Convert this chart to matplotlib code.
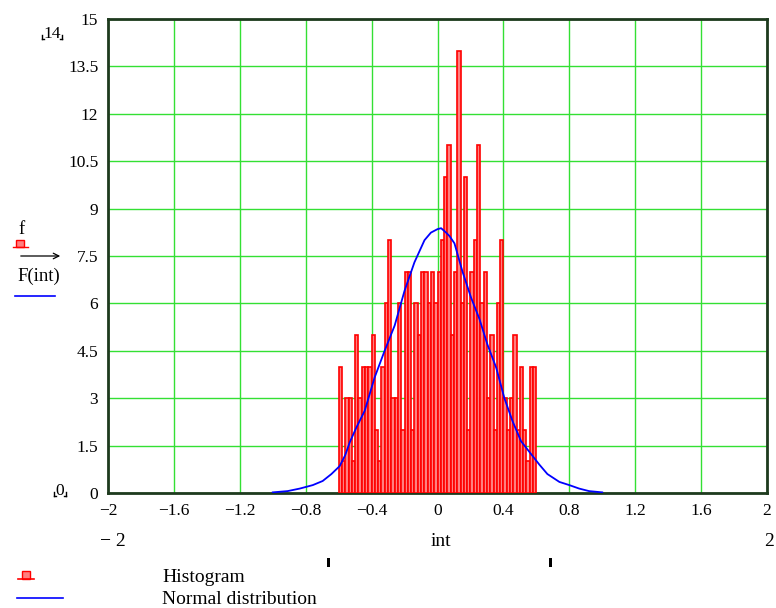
import matplotlib
matplotlib.use("Agg")
import matplotlib.pyplot as plt
from matplotlib.lines import Line2D
from matplotlib.patches import Rectangle

# ---------------- data ----------------
bin_start = -0.6
bin_width = 0.02
hist_counts = [4, 1, 3, 3, 1, 5, 3, 4, 4, 4,
               5, 2, 1, 4, 6, 8, 3, 3, 6, 2,
               7, 7, 2, 6, 5, 7, 7, 6, 7, 6,
               7, 8, 10, 11, 5, 7, 14, 6, 10, 2,
               7, 8, 11, 6, 7, 3, 5, 2, 6, 8,
               3, 2, 3, 5, 2, 4, 2, 1, 4, 4]

curve_x = [-1.0, -0.91, -0.836, -0.757, -0.697, -0.644, -0.594, -0.56, -0.533,
           -0.49, -0.442, -0.382, -0.321, -0.26, -0.2, -0.14, -0.079, -0.04, 0.0, 0.022,
           0.05, 0.073, 0.103, 0.152, 0.204, 0.255, 0.303, 0.356, 0.406, 0.455,
           0.507, 0.558, 0.618, 0.667, 0.74, 0.8, 0.86, 0.92, 1.0]
curve_y = [0.02, 0.06, 0.14, 0.25, 0.38, 0.6, 0.85, 1.2, 1.6,
           2.1, 2.6, 3.65, 4.5, 5.3, 6.4, 7.3, 8.0, 8.24, 8.35, 8.38,
           8.25, 8.13, 7.9, 7.0, 6.18, 5.5, 4.7, 3.97, 3.0, 2.28,
           1.64, 1.3, 0.9, 0.6, 0.35, 0.25, 0.14, 0.06, 0.02]

x_ticks = [-2, -1.6, -1.2, -0.8, -0.4, 0, 0.4, 0.8, 1.2, 1.6, 2]
x_tick_labels = ["\u22122", "\u22121.6", "\u22121.2", "\u22120.8", "\u22120.4",
                 "0", "0.4", "0.8", "1.2", "1.6", "2"]
y_ticks = [0, 1.5, 3, 4.5, 6, 7.5, 9, 10.5, 12, 13.5, 15]
y_tick_labels = ["0", "1.5", "3", "4.5", "6", "7.5", "9", "10.5", "12", "13.5", "15"]

# ---------------- figure ----------------
W, H = 776, 608
plt.rcParams['font.family'] = ['Liberation Serif', 'DejaVu Serif']
fig = plt.figure(figsize=(W / 100, H / 100), dpi=100)
ax = fig.add_axes([108 / W, 1 - 493 / H, 659 / W, 474 / H])

edges = [bin_start + i * bin_width for i in range(len(hist_counts))]
ax.bar(edges, hist_counts, width=bin_width, align='edge',
       color='#ff7f7f', edgecolor='#ff0000', linewidth=1.2, zorder=3)
ax.plot(curve_x, curve_y, color='#0000ff', linewidth=1.3, zorder=4)

ax.set_xlim(-2, 2)
ax.set_ylim(0, 15)
ax.set_xticks(x_ticks)
ax.set_xticklabels(x_tick_labels)
ax.set_yticks(y_ticks)
ax.set_yticklabels(y_tick_labels)
ax.tick_params(axis='both', length=0, labelsize=12.5)
ax.tick_params(axis='x', pad=7)
ax.tick_params(axis='y', pad=7)
ax.grid(True, color='#33e033', linewidth=1.0, zorder=0)
ax.set_axisbelow(True)
for s in ax.spines.values():
    s.set_color('#1e3a1e')
    s.set_linewidth(2)


def fx(px):
    return px / W


def fy(py):
    return 1 - py / H


# y-limit markers
fig.text(fx(52), fy(34), "14", fontsize=12.5, ha='center', va='center')
fig.text(fx(60), fy(491), "0", fontsize=12.5, ha='center', va='center')
for (cx, cy, hw) in [(52, 34, 10), (60, 491, 6)]:
    for sx in (-1, 1):
        x0 = cx + sx * hw
        fig.add_artist(Line2D([fx(x0), fx(x0)], [fy(cy + 1), fy(cy + 5)],
                              color='black', lw=1, transform=fig.transFigure))
        fig.add_artist(Line2D([fx(x0), fx(x0 - sx * 2)], [fy(cy + 5), fy(cy + 5)],
                              color='black', lw=1, transform=fig.transFigure))

# left-side trace labels
fig.text(fx(22), fy(229), "f", fontsize=13.5, ha='center', va='center')
fig.add_artist(Rectangle((fx(16), fy(247)), 8 / W, 7 / H, facecolor='#ff7f7f',
                         edgecolor='#ff0000', lw=1, transform=fig.transFigure))
fig.add_artist(Line2D([fx(13), fx(28)], [fy(247), fy(247)], color='#ff0000', lw=1,
                      transform=fig.transFigure))
ax.annotate("", xy=(fx(63), fy(256)), xytext=(fx(18), fy(256)),
            xycoords='figure fraction', textcoords='figure fraction',
            arrowprops=dict(arrowstyle='->', color='black', lw=0.9),
            annotation_clip=False)
fig.text(fx(39), fy(276), "F(int)", fontsize=13.5, ha='center', va='center')
fig.add_artist(Line2D([fx(15), fx(55)], [fy(296), fy(296)], color='#0000ff', lw=1.2,
                      transform=fig.transFigure))

# x range / axis name
fig.text(fx(113), fy(541), "\u2212 2", fontsize=14, ha='center', va='center')
fig.text(fx(441), fy(541), "int", fontsize=14, ha='center', va='center')
fig.text(fx(769), fy(541), "2", fontsize=14, ha='center', va='center')

# cursor markers
for mx in (328, 550):
    fig.add_artist(Rectangle((fx(mx - 1.5), fy(567)), 3 / W, 9 / H, facecolor='black',
                             edgecolor='none', transform=fig.transFigure))

# legend
fig.add_artist(Rectangle((fx(22), fy(579)), 8 / W, 8 / H, facecolor='#ff7f7f',
                         edgecolor='#ff0000', lw=1, transform=fig.transFigure))
fig.add_artist(Line2D([fx(18), fx(34)], [fy(579), fy(579)], color='#ff0000', lw=1.2,
                      transform=fig.transFigure))
fig.text(fx(162), fy(577), "Histogram", fontsize=14, ha='left', va='center')
fig.add_artist(Line2D([fx(17), fx(63)], [fy(598), fy(598)], color='#0000ff', lw=1.2,
                      transform=fig.transFigure))
fig.text(fx(162), fy(600), "Normal distribution", fontsize=14, ha='left', va='center')

fig.savefig("out.png", dpi=100)
